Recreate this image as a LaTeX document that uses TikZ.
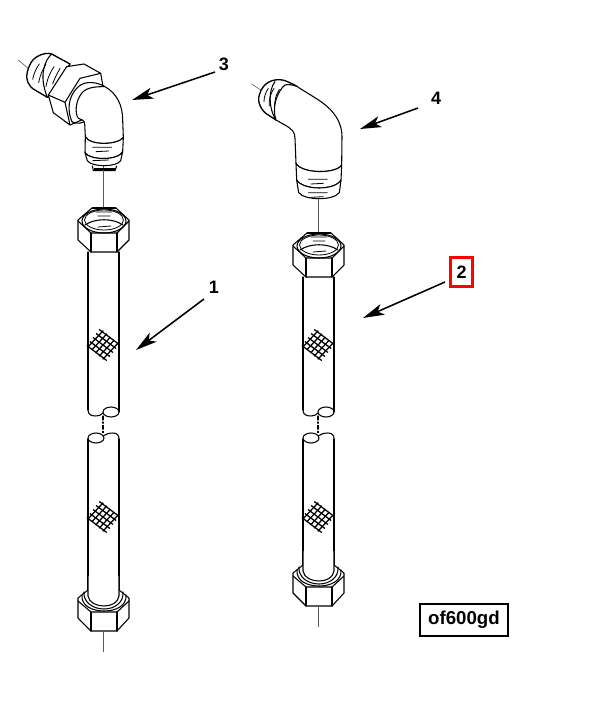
\documentclass[tikz,border=0pt]{standalone}
\usepackage{fontspec}
\setmainfont{Liberation Sans}
\usetikzlibrary{arrows.meta}
\tikzset{
  ln/.style={line width=0.8pt,black,line join=round,line cap=round},
  thin ln/.style={line width=0.6pt,black,line cap=round},
  axis ln/.style={line width=0.45pt,black!65},
  leader/.style={line width=1.15pt,black,-{Stealth[length=16pt,width=8.5pt,inset=4pt]}},
  num/.style={font=\bfseries\fontsize{13.5}{15}\selectfont,inner sep=0pt},
  pics/topnut/.style={code={
    \draw[ln,fill=white] (-11,-13) -- (13,-13) -- (26,-1) -- (26,19) -- (14,31) -- (-12,31) -- (-25,19) -- (-25,-1) -- cycle;
    \draw[ln] (-25,0) -- (-12,12) -- (14,12) -- (26,0);
    \draw[ln] (-12,12) -- (-12,31) (14,12) -- (14,31);
    \draw[ln] (1,0) ellipse [x radius=22,y radius=12];
    \draw[thin ln] (1,-1) ellipse [x radius=19.5,y radius=10];
    \draw[ln] (-18,4) .. controls (-8,-3) and (10,-3) .. (20,4);
    \draw[thin ln] (-7,-9) -- (9,-9) (-5,-5) -- (7,-5) (-5,6) -- (8,5);
    \draw[line width=1.1pt] (-11,-13) -- (13,-13);
  }},
  pics/botnut/.style={code={
    \draw[ln,fill=white] (-15,-31) -- (-25,-23) -- (-25,-3) -- (-12,10) -- (14,10) -- (26,-3) -- (26,-23) -- (16,-31);
    \draw[ln] (-25,-20) -- (-12,-9) -- (14,-9) -- (26,-20);
    \draw[ln] (-12,-9) -- (-12,10) (14,-9) -- (14,10);
    \draw[ln] (-21,-26) .. controls (-22,-16) and (-12,-10) .. (1,-10) .. controls (14,-10) and (24,-16) .. (23,-26);
    \draw[ln] (-19,-29) .. controls (-20,-19) and (-10,-12) .. (1,-12) .. controls (12,-12) and (21,-19) .. (20,-29);
    \draw[ln,fill=white] (-15,-45) -- (-15,-25) .. controls (-14,-18) and (-6,-15) .. (1,-15) .. controls (8,-15) and (15,-18) .. (16,-25) -- (16,-45);
  }},
  pics/mesh/.style={code={
    \foreach \k in {-8,-4,0,4,8}{
      \draw[line width=0.95pt] ({-10-\k*0.78},{-7.5+\k*1.0}) -- ({10-\k*0.78},{7.5+\k*1.0});
      \draw[line width=0.95pt] ({-7.5+\k*0.9},{8+\k*0.8}) -- ({7.5+\k*0.9},{-8+\k*0.8});
    }
  }},
  pics/breakup/.style={code={
    \draw[ln] (-15,-6) -- (-15,0) .. controls (-15,5) and (-11,6) .. (-7,6) .. controls (-4,6) and (-2,5) .. (0,3);
    \draw[ln] (16,-6) -- (16,2);
    \draw[ln] (8,2) ellipse [x radius=8,y radius=5];
  }},
  pics/breaklow/.style={code={
    \draw[ln] (-7,5) ellipse [x radius=8,y radius=5];
    \draw[ln] (0,3) .. controls (3,1) and (6,0) .. (10,0) .. controls (14,0) and (16,2) .. (16,6);
    \draw[ln] (-15,6) -- (-15,12);
    \draw[ln] (16,6) -- (16,12);
  }}
}
\begin{document}
\begin{tikzpicture}[x=0.75pt,y=-0.75pt]
\useasboundingbox (0,0) rectangle (600,706);
\fill[white] (0,0) rectangle (600,706);

% ---------- elbow 3
\begin{scope}[shift={(10,40)},x=0.25pt,y=-0.25pt]
  \draw[axis ln] (25,60) -- (58,88);
  \draw[axis ln] (280,375) -- (280,408);
  \draw[line width=1pt,line join=round,fill=white] (78,52) .. controls (95,40) and (115,38) .. (125,42) -- (180,72) -- (120,170) -- (112,172) -- (75,150) .. controls (55,140) and (45,115) .. (52,95) .. controls (58,75) and (65,60) .. (78,52) -- cycle;
  \draw[ln] (125,42) .. controls (105,60) and (85,105) .. (112,172);
  \draw[thin ln] (88,72) .. controls (78,85) and (72,100) .. (68,118) (108,72) .. controls (98,90) and (90,105) .. (86,128) (132,80) .. controls (122,95) and (112,115) .. (108,140) (150,85) .. controls (142,100) and (132,118) .. (128,132);
  \draw[ln,fill=white] (170,80) -- (222,72) -- (272,100) -- (280,145) -- (215,240) -- (180,255) -- (130,218) -- (115,165) -- cycle;
  \draw[ln] (115,165) -- (165,187) -- (180,255);
  \draw[ln] (165,187) -- (210,115) -- (272,100);
  \draw[ln,fill=white] (186,245) .. controls (172,215) and (172,170) .. (205,140) .. controls (225,122) and (260,125) .. (285,140) .. controls (320,160) and (338,195) .. (338,240) -- (340,292) .. controls (325,315) and (240,318) .. (226,290) -- (224,250) .. controls (222,240) and (212,237) .. (205,235) .. controls (195,222) and (195,185) .. (215,160) .. controls (230,140) and (262,140) .. (285,140);
  \draw[ln] (186,245) .. controls (192,250) and (205,252) .. (222,246);
  \draw[ln,fill=white] (226,290) -- (225,338) .. controls (240,362) and (325,362) .. (338,335) -- (340,292) .. controls (325,315) and (240,318) .. (226,290) -- cycle;
  \draw[ln,fill=white] (225,338) -- (232,362) .. controls (245,382) and (320,382) .. (332,362) -- (338,335) .. controls (325,362) and (240,362) .. (225,338) -- cycle;
  \draw[thin ln] (248,322) -- (305,322) (258,335) -- (296,333) (248,362) -- (296,360);
  \draw[ln] (247,378) -- (250,392) -- (315,392) -- (320,378);
  \draw[line width=1.6pt] (252,386) -- (314,386);
\end{scope}

% ---------- elbow 4
\begin{scope}[shift={(240,70)},x=0.25pt,y=-0.25pt]
  \draw[axis ln] (35,42) -- (65,62);
  \draw[axis ln] (235,385) -- (235,418);
  \draw[line width=1pt,line join=round,fill=white] (70,50) .. controls (85,30) and (115,25) .. (135,32) .. controls (150,38) and (165,45) .. (172,50) -- (108,150) -- (85,135) .. controls (65,125) and (50,95) .. (58,75) .. controls (60,65) and (65,57) .. (70,50) -- cycle;
  \draw[ln] (105,35) .. controls (85,60) and (85,115) .. (108,150);
  \draw[thin ln] (85,55) .. controls (76,68) and (72,82) .. (72,95) (102,55) .. controls (92,70) and (86,88) .. (88,108) (118,58) .. controls (108,75) and (102,92) .. (104,118);
  \draw[ln,fill=white] (172,50) .. controls (205,72) and (240,90) .. (262,110) .. controls (290,135) and (306,165) .. (306,200) -- (305,285) .. controls (290,312) and (185,312) .. (168,280) -- (165,205) .. controls (165,185) and (155,178) .. (140,168) -- (108,150) .. controls (95,115) and (110,65) .. (135,45) .. controls (145,42) and (160,45) .. (172,50) -- cycle;
  \draw[ln,fill=white] (168,280) -- (170,330) .. controls (190,362) and (285,362) .. (303,330) -- (305,285) .. controls (290,312) and (185,312) .. (168,280) -- cycle;
  \draw[ln,fill=white] (170,330) -- (176,368) .. controls (195,392) and (280,392) .. (298,368) -- (303,330) .. controls (285,362) and (190,362) .. (170,330) -- cycle;
  \draw[thin ln] (205,328) -- (262,328) (212,342) -- (250,340) (205,368) -- (262,368) (212,382) -- (250,380);
\end{scope}

% ---------- hose 1
\draw[axis ln] (103,170) -- (103,208);
\draw[ln] (88,252) -- (88,410) (119,252) -- (119,410);
\pic at (103,221) {topnut};
\pic at (103,345) {mesh};
\pic at (103,410) {breakup};
\draw[ln,dash pattern=on 3pt off 1.5pt on 1pt off 1.5pt] (103,416) -- (103,433);
\pic at (103,433) {breaklow};
\draw[ln] (88,445) -- (88,590) (119,445) -- (119,590);
\pic at (103,517) {mesh};
\pic at (103,621) {botnut};
\draw[axis ln] (103,631) -- (103,652);

% ---------- hose 2
\draw[axis ln] (318,205) -- (318,233);
\draw[ln] (303,277) -- (303,410) (334,277) -- (334,410);
\pic at (318,246) {topnut};
\pic at (318,345) {mesh};
\pic at (318,410) {breakup};
\draw[ln,dash pattern=on 3pt off 1.5pt on 1pt off 1.5pt] (318,416) -- (318,433);
\pic at (318,433) {breaklow};
\draw[ln] (303,445) -- (303,565) (334,445) -- (334,565);
\pic at (318,517) {mesh};
\pic at (318,596) {botnut};
\draw[axis ln] (318,606) -- (318,627);

% ---------- labels and arrows
\node[num] (n3) at (224,64) {3};
\node[num] (n4) at (436,98) {4};
\node[num] (n1) at (214,287) {1};
\node[num,draw=red,line width=2.4pt,minimum width=16.5pt,minimum height=22pt] (n2) at (461.5,272) {2};
\coordinate (t3) at (132,100);
\coordinate (t4) at (360,129);
\coordinate (t1) at (136,350);
\coordinate (t2) at (363,318);
\coordinate (s3) at (215,72);
\coordinate (s4) at (418,108);
\coordinate (s1) at (204,299);
\coordinate (s2) at (445,282);
\draw[leader] (s3) -- (t3);
\draw[leader] (s4) -- (t4);
\draw[leader] (s1) -- (t1);
\draw[leader] (s2) -- (t2);
\node[draw=black,line width=1.5pt,font=\bfseries\fontsize{14}{16}\selectfont,minimum width=66.5pt,minimum height=23.5pt,inner sep=0pt] (code) at (464,620) {of600gd};
\end{tikzpicture}
\end{document}
